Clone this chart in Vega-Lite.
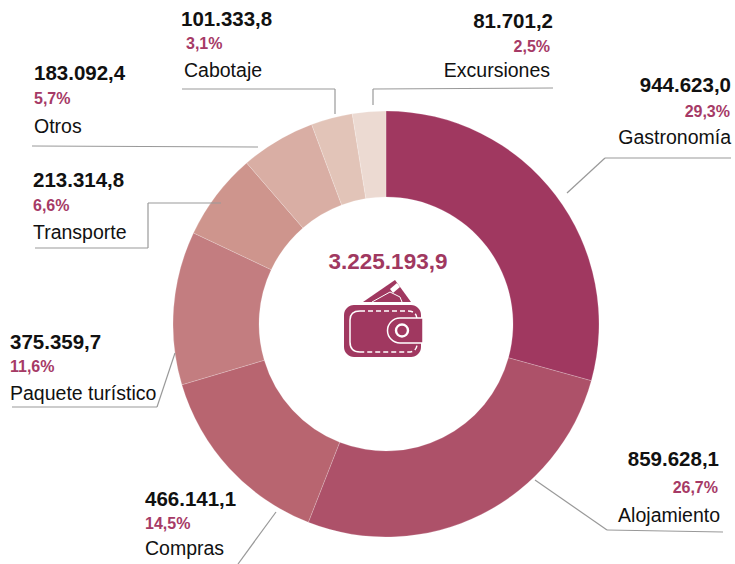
{"$schema":"https://vega.github.io/schema/vega-lite/v6.json","width":735,"height":564,"padding":0,"autosize":{"type":"none"},"background":"white","view":{"stroke":null},
"datasets":{"main":[
{"name":"Gastronomía","value":944623.0,"amount":"944.623,0","pct":"29,3%"},
{"name":"Alojamiento","value":859628.1,"amount":"859.628,1","pct":"26,7%"},
{"name":"Compras","value":466141.1,"amount":"466.141,1","pct":"14,5%"},
{"name":"Paquete turístico","value":375359.7,"amount":"375.359,7","pct":"11,6%"},
{"name":"Transporte","value":213314.8,"amount":"213.314,8","pct":"6,6%"},
{"name":"Otros","value":183092.4,"amount":"183.092,4","pct":"5,7%"},
{"name":"Cabotaje","value":101333.8,"amount":"101.333,8","pct":"3,1%"},
{"name":"Excursiones","value":81701.2,"amount":"81.701,2","pct":"2,5%"}],
"one":[{"total":"3.225.193,9"}]},
"resolve":{"scale":{"x":"independent","y":"independent"}},
"layer":[
{"layer":[
{"data":{"name":"main"},"mark":{"type":"arc","outerRadius":213,"innerRadius":127,"stroke":"white","strokeWidth":0.2},
"encoding":{"x":{"datum":386,"type":"quantitative","scale":{"domain":[0,735],"range":[0,735],"nice":false,"zero":false},"axis":null},
"y":{"datum":324,"type":"quantitative","scale":{"domain":[0,564],"range":[0,564],"nice":false,"zero":false},"axis":null},
"theta":{"field":"value","type":"quantitative","stack":true},
"order":{"field":"value","type":"quantitative","sort":"descending"},
"color":{"field":"name","type":"nominal","legend":null,"sort":null,"scale":{"domain":["Gastronomía","Alojamiento","Compras","Paquete turístico","Transporte","Otros","Cabotaje","Excursiones"],"range":["#A03860","#AD5169","#B86570","#C37D80","#CE958D","#D9AEA4","#E2C4B8","#ECDAD2"]}}}},
{"data":{"name":"one"},"layer":[
{"mark":{"type":"rule","stroke":"#999999","strokeWidth":1.2},"encoding":{"x":{"datum":182,"axis":null},"x2":{"datum":335},"y":{"datum":89,"axis":null},"y2":{"datum":89}}},
{"mark":{"type":"rule","stroke":"#999999","strokeWidth":1.2},"encoding":{"x":{"datum":335,"axis":null},"x2":{"datum":335},"y":{"datum":89,"axis":null},"y2":{"datum":114}}},
{"mark":{"type":"rule","stroke":"#999999","strokeWidth":1.2},"encoding":{"x":{"datum":32,"axis":null},"x2":{"datum":258},"y":{"datum":146,"axis":null},"y2":{"datum":147}}},
{"mark":{"type":"rule","stroke":"#999999","strokeWidth":1.2},"encoding":{"x":{"datum":35,"axis":null},"x2":{"datum":148},"y":{"datum":248,"axis":null},"y2":{"datum":248}}},
{"mark":{"type":"rule","stroke":"#999999","strokeWidth":1.2},"encoding":{"x":{"datum":148,"axis":null},"x2":{"datum":148},"y":{"datum":248,"axis":null},"y2":{"datum":203}}},
{"mark":{"type":"rule","stroke":"#999999","strokeWidth":1.2},"encoding":{"x":{"datum":148,"axis":null},"x2":{"datum":221},"y":{"datum":203,"axis":null},"y2":{"datum":203}}},
{"mark":{"type":"rule","stroke":"#999999","strokeWidth":1.2},"encoding":{"x":{"datum":12,"axis":null},"x2":{"datum":157},"y":{"datum":407,"axis":null},"y2":{"datum":407}}},
{"mark":{"type":"rule","stroke":"#999999","strokeWidth":1.2},"encoding":{"x":{"datum":157,"axis":null},"x2":{"datum":175},"y":{"datum":407,"axis":null},"y2":{"datum":353}}},
{"mark":{"type":"rule","stroke":"#999999","strokeWidth":1.2},"encoding":{"x":{"datum":276,"axis":null},"x2":{"datum":238},"y":{"datum":512,"axis":null},"y2":{"datum":564}}},
{"mark":{"type":"rule","stroke":"#999999","strokeWidth":1.2},"encoding":{"x":{"datum":373,"axis":null},"x2":{"datum":373},"y":{"datum":105,"axis":null},"y2":{"datum":89}}},
{"mark":{"type":"rule","stroke":"#999999","strokeWidth":1.2},"encoding":{"x":{"datum":373,"axis":null},"x2":{"datum":553},"y":{"datum":89,"axis":null},"y2":{"datum":88}}},
{"mark":{"type":"rule","stroke":"#999999","strokeWidth":1.2},"encoding":{"x":{"datum":731,"axis":null},"x2":{"datum":605},"y":{"datum":158,"axis":null},"y2":{"datum":158}}},
{"mark":{"type":"rule","stroke":"#999999","strokeWidth":1.2},"encoding":{"x":{"datum":605,"axis":null},"x2":{"datum":567},"y":{"datum":158,"axis":null},"y2":{"datum":193}}},
{"mark":{"type":"rule","stroke":"#999999","strokeWidth":1.2},"encoding":{"x":{"datum":535,"axis":null},"x2":{"datum":607},"y":{"datum":480,"axis":null},"y2":{"datum":530}}},
{"mark":{"type":"rule","stroke":"#999999","strokeWidth":1.2},"encoding":{"x":{"datum":607,"axis":null},"x2":{"datum":723},"y":{"datum":530,"axis":null},"y2":{"datum":532}}},
{"mark":{"type":"text","font":"Liberation Sans","fontWeight":"bold","fontSize":22.5,"align":"center","baseline":"alphabetic","fill":"#A03860"},"encoding":{"x":{"datum":388,"axis":null},"y":{"datum":269,"axis":null},"text":{"field":"total"}}},
{"mark":{"type":"point","filled":true,"fill":"#A03860","opacity":1,"size":4,"strokeWidth":0,"shape":"M-21,-18 L11,-40 L27,-18 Z"},"encoding":{"x":{"datum":384,"axis":null},"y":{"datum":320,"axis":null}}},
{"mark":{"type":"point","filled":false,"stroke":"white","opacity":1,"size":4,"strokeWidth":1,"shape":"M-12,-18 L6,-28 L16,-23 L18,-18"},"encoding":{"x":{"datum":384,"axis":null},"y":{"datum":320,"axis":null}}},
{"mark":{"type":"point","filled":true,"fill":"white","opacity":1,"size":4,"strokeWidth":0,"shape":"M6,-31 L13,-37 L16,-33 L9,-27 Z"},"encoding":{"x":{"datum":384,"axis":null},"y":{"datum":320,"axis":null}}},
{"mark":{"type":"point","filled":true,"fill":"#A03860","opacity":1,"size":4,"stroke":"white","strokeWidth":0,"shape":"M-30,-15 H27 A10,10 0 0 1 37,-5 V27 A10,10 0 0 1 27,37 H-30 A10,10 0 0 1 -40,27 V-5 A10,10 0 0 1 -30,-15 Z"},"encoding":{"x":{"datum":384,"axis":null},"y":{"datum":320,"axis":null}}},
{"mark":{"type":"point","filled":false,"stroke":"white","opacity":1,"size":4,"strokeWidth":1.5,"strokeDash":[5,3],"shape":"M-24,-9 H24 Q33,-9 33,0 V24 Q33,32 24,32 H-24"},"encoding":{"x":{"datum":384,"axis":null},"y":{"datum":320,"axis":null}}},
{"mark":{"type":"point","filled":false,"stroke":"white","opacity":1,"size":4,"strokeWidth":1.5,"shape":"M-24,-9 Q-34,-9 -34,0 V22 Q-34,32 -24,32"},"encoding":{"x":{"datum":384,"axis":null},"y":{"datum":320,"axis":null}}},
{"mark":{"type":"point","filled":true,"fill":"#A03860","stroke":"white","opacity":1,"size":4,"strokeWidth":1.5,"shape":"M39,-2 H16 A12.5,12.5 0 0 0 16,23 H39 Z"},"encoding":{"x":{"datum":384,"axis":null},"y":{"datum":320,"axis":null}}},
{"mark":{"type":"point","filled":false,"stroke":"white","opacity":1,"size":4,"strokeWidth":2.4,"shape":"M24,10.5 A6,6 0 1 1 12,10.5 A6,6 0 1 1 24,10.5 Z"},"encoding":{"x":{"datum":384,"axis":null},"y":{"datum":320,"axis":null}}}
]}
]},
{"data":{"name":"main"},"mark":{"type":"text","font":"Liberation Sans","fontWeight":"bold","fontSize":20.5,"baseline":"alphabetic","fill":"#111111","align":{"expr":"datum.value==81701.2||datum.value>800000?'right':'left'"}},
"encoding":{"text":{"field":"amount"},
"x":{"field":"value","type":"quantitative","axis":null,"scale":{"zero":false,"nice":false,"domain":[81701.2,101333.8,183092.4,213314.8,375359.7,466141.1,859628.1,944623.0],"range":[553,181,34,33,10,145,719,731]}},
"y":{"field":"value","type":"quantitative","axis":null,"scale":{"zero":false,"nice":false,"domain":[81701.2,101333.8,183092.4,213314.8,375359.7,466141.1,859628.1,944623.0],"range":[28,26,80,187,349,506,466,92]}}}},
{"data":{"name":"main"},"mark":{"type":"text","font":"Liberation Sans","fontWeight":"bold","fontSize":16,"baseline":"alphabetic","fill":"#A63A66","align":{"expr":"datum.value==81701.2||datum.value>800000?'right':'left'"}},
"encoding":{"text":{"field":"pct"},
"x":{"field":"value","type":"quantitative","axis":null,"scale":{"zero":false,"nice":false,"domain":[81701.2,101333.8,183092.4,213314.8,375359.7,466141.1,859628.1,944623.0],"range":[550,186,34,33,10,145,718,730]}},
"y":{"field":"value","type":"quantitative","axis":null,"scale":{"zero":false,"nice":false,"domain":[81701.2,101333.8,183092.4,213314.8,375359.7,466141.1,859628.1,944623.0],"range":[52,49,104,211,372,529,493,117]}}}},
{"data":{"name":"main"},"mark":{"type":"text","font":"Liberation Sans","fontSize":19.5,"baseline":"alphabetic","fill":"#111111","align":{"expr":"datum.value==81701.2||datum.value>800000?'right':'left'"}},
"encoding":{"text":{"field":"name"},
"x":{"field":"value","type":"quantitative","axis":null,"scale":{"zero":false,"nice":false,"domain":[81701.2,101333.8,183092.4,213314.8,375359.7,466141.1,859628.1,944623.0],"range":[550,184,34,33,10,145,720,731]}},
"y":{"field":"value","type":"quantitative","axis":null,"scale":{"zero":false,"nice":false,"domain":[81701.2,101333.8,183092.4,213314.8,375359.7,466141.1,859628.1,944623.0],"range":[77,77,133,239,400,555,522,144]}}}}
]}
